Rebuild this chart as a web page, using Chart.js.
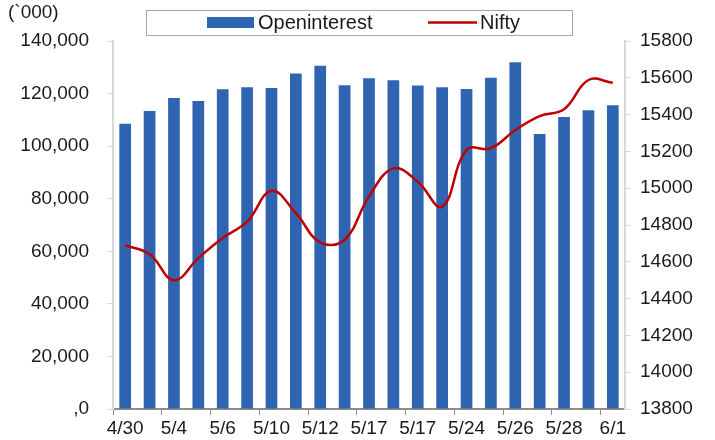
<!DOCTYPE html>
<html>
<head>
<meta charset="utf-8">
<script src="https://cdn.jsdelivr.net/npm/chart.js@4/dist/chart.umd.min.js"></script>
<style>
    html, body { margin: 0; padding: 0; background: #fff; }
    #wrap { width: 715px; height: 440px; position: relative; }
</style>
</head>
<body>
<div id="wrap"><canvas id="oiChart"></canvas></div>
<script>
// dates (only every other one is printed on the axis, as in the source)
const dates = ["4/30", "5/3", "5/4", "5/5", "5/6", "5/7", "5/10", "5/11", "5/12", "5/14",
    "5/17", "5/18", "5/17", "5/20", "5/24", "5/25", "5/26", "5/27", "5/28", "5/31", "6/1"];

// open interest, in '000
const openInterest = [108500, 113400, 118300, 117200, 121600, 122400, 122100, 127600, 130600, 123200,
    125800, 125100, 123100, 122400, 121700, 126000, 131900, 104600, 111100, 113700, 115600];

// Nifty close
const nifty = [14690, 14642, 14500, 14620, 14729, 14818, 14986, 14864, 14705, 14720,
    14955, 15108, 15035, 14900, 15208, 15217, 15316, 15392, 15429, 15588, 15573];

const leftTicks = { min: 0, max: 140000, step: 20000 };
const rightTicks = { min: 13800, max: 15800, step: 200 };

const FONT = "'Liberation Sans', Arial, sans-serif";
const BLUE = "#2E64B0";
const RED = "#C00000";

Chart.defaults.font.family = FONT;
Chart.defaults.font.size = 19;
Chart.defaults.color = "#1a1a1a";

// legend box + unit label, drawn by hand to get the same framed look
const extras = {
    id: "extras",
    afterDraw(chart) {
        const ctx = chart.ctx;
        ctx.save();
        ctx.font = "19px " + FONT;
        ctx.fillStyle = "#1a1a1a";
        ctx.textBaseline = "middle";
        ctx.textAlign = "left";
        ctx.fillText("(`000)", 8, 13);

        // legend frame
        ctx.strokeStyle = "#a6a6a6";
        ctx.lineWidth = 1;
        ctx.strokeRect(146.5, 10.5, 426, 25);

        const ds = chart.data.datasets;
        ctx.font = "20px " + FONT;
        ctx.fillStyle = ds[0].backgroundColor;
        ctx.fillRect(207, 17, 47, 11);
        ctx.fillStyle = "#1a1a1a";
        ctx.fillText(ds[0].label, 258, 23);

        ctx.strokeStyle = ds[1].borderColor;
        ctx.lineWidth = 2.5;
        ctx.beginPath();
        ctx.moveTo(428, 22.5);
        ctx.lineTo(477, 22.5);
        ctx.stroke();
        ctx.fillText(ds[1].label, 480, 23);
        ctx.restore();
    }
};

new Chart(document.getElementById("oiChart"), {
    type: "bar",
    data: {
        labels: dates,
        datasets: [
            {
                type: "bar",
                label: "Openinterest",
                data: openInterest,
                yAxisID: "y",
                backgroundColor: BLUE,
                borderWidth: 0,
                categoryPercentage: 1,
                barPercentage: 0.48,
                order: 2,
            },
            {
                type: "line",
                label: "Nifty",
                data: nifty,
                yAxisID: "y1",
                borderColor: RED,
                backgroundColor: RED,
                borderWidth: 2.5,
                pointRadius: 0,
                tension: 0.4,
                order: 1,
            },
        ],
    },
    options: {
        responsive: true,
        maintainAspectRatio: false,
        animation: false,
        layout: { padding: { left: 0, right: 0, top: 41, bottom: 0 } },
        plugins: {
            legend: { display: false },
            tooltip: { enabled: false },
        },
        scales: {
            x: {
                offset: true,
                afterFit(s) { s.height = 31; },
                border: { color: "#8c8c8c", width: 2 },
                grid: {
                    offset: true,
                    drawOnChartArea: false,
                    tickLength: 6,
                    color: (c) => (c.index % 2 === 0 ? "#8c8c8c" : "rgba(0,0,0,0)"),
                },
                ticks: {
                    autoSkip: false,
                    maxRotation: 0,
                    padding: 2,
                    callback: (v, i) => (i % 2 === 0 ? dates[i] : ""),
                },
            },
            y: {
                position: "left",
                min: leftTicks.min,
                max: leftTicks.max,
                afterFit(s) { s.width = 113; },
                border: { color: "#d9d9d9", width: 2 },
                grid: { drawOnChartArea: false, tickLength: 6, color: "#d9d9d9" },
                ticks: {
                    stepSize: leftTicks.step,
                    padding: 18,
                    callback: (v) => (v === 0 ? ",0" : v.toLocaleString("en-US")),
                },
            },
            y1: {
                position: "right",
                min: rightTicks.min,
                max: rightTicks.max,
                afterFit(s) { s.width = 90; },
                border: { color: "#d9d9d9", width: 2 },
                grid: { drawOnChartArea: false, tickLength: 6, color: "#d9d9d9" },
                ticks: {
                    stepSize: rightTicks.step,
                    padding: 9,
                    callback: (v) => String(v),
                },
            },
        },
    },
    plugins: [extras],
});
</script>
</body>
</html>
